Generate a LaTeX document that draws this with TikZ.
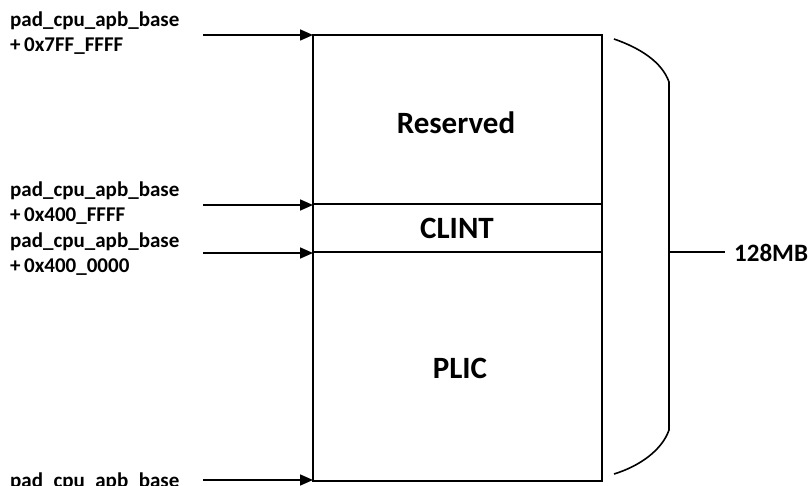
\documentclass[tikz,border=0pt]{standalone}
\usepackage{fontspec}
\setmainfont{Carlito}
\usetikzlibrary{arrows.meta}
\begin{document}
\begin{tikzpicture}[x=1pt,y=-1pt,
  lbl/.style={anchor=base west,inner sep=0pt,font=\bfseries\fontsize{21}{25}\selectfont},
  big/.style={font=\bfseries\fontsize{31}{34}\selectfont},
  arr/.style={-{Triangle[length=13pt,width=11pt]},line width=1.6pt},
  ln/.style={line width=1.6pt}]
\clip (0,0) rectangle (811,486);
\fill[white] (0,0) rectangle (811,486);
% box
\coordinate (tl) at (313,35);
\coordinate (br) at (602,481);
\draw[ln] (tl) rectangle (br);
\coordinate (c1l) at (313,204); \coordinate (c1r) at (602,204);
\coordinate (c2l) at (313,252); \coordinate (c2r) at (602,252);
\draw[ln] (c1l) -- (c1r);
\draw[ln] (c2l) -- (c2r);
\node[big] (res) at (456,123) {Reserved};
\node[big] (clint) at (457,228) {CLINT};
\node[big] (plic) at (460,368) {PLIC};
% arrows
\coordinate (a1s) at (203,35); \coordinate (a1e) at (313,35);
\coordinate (a2s) at (203,205); \coordinate (a2e) at (313,205);
\coordinate (a3s) at (203,253); \coordinate (a3e) at (313,253);
\coordinate (a4s) at (203,480); \coordinate (a4e) at (313,480);
\draw[arr] (a1s) -- (a1e);
\draw[arr] (a2s) -- (a2e);
\draw[arr] (a3s) -- (a3e);
\draw[arr] (a4s) -- (a4e);
\node[lbl] (l1a) at (10,27) {pad\_cpu\_apb\_base};
\node[lbl] (l1b) at (10,52) {+\,0x7FF\_FFFF};
\node[lbl] (l2a) at (10,197) {pad\_cpu\_apb\_base};
\node[lbl] (l2b) at (10,222) {+\,0x400\_FFFF};
\node[lbl] (l3a) at (10,248) {pad\_cpu\_apb\_base};
\node[lbl] (l3b) at (10,273) {+\,0x400\_0000};
\node[lbl] (l4a) at (10,487) {pad\_cpu\_apb\_base};
% brace
\coordinate (bt) at (614,39);
\coordinate (bt2) at (669,82);
\coordinate (bb2) at (669,430);
\coordinate (bb) at (614,474);
\draw[ln] (bt) .. controls (640,48) and (662,62) .. (bt2) -- (bb2) .. controls (662,450) and (640,466) .. (bb);
\coordinate (tk) at (669,252);
\node[anchor=west,inner sep=0pt,font=\bfseries\fontsize{25}{28}\selectfont] (mb) at (734,253) {128MB};
\draw[ln] (tk) -- (725,252);
\end{tikzpicture}
\end{document}
